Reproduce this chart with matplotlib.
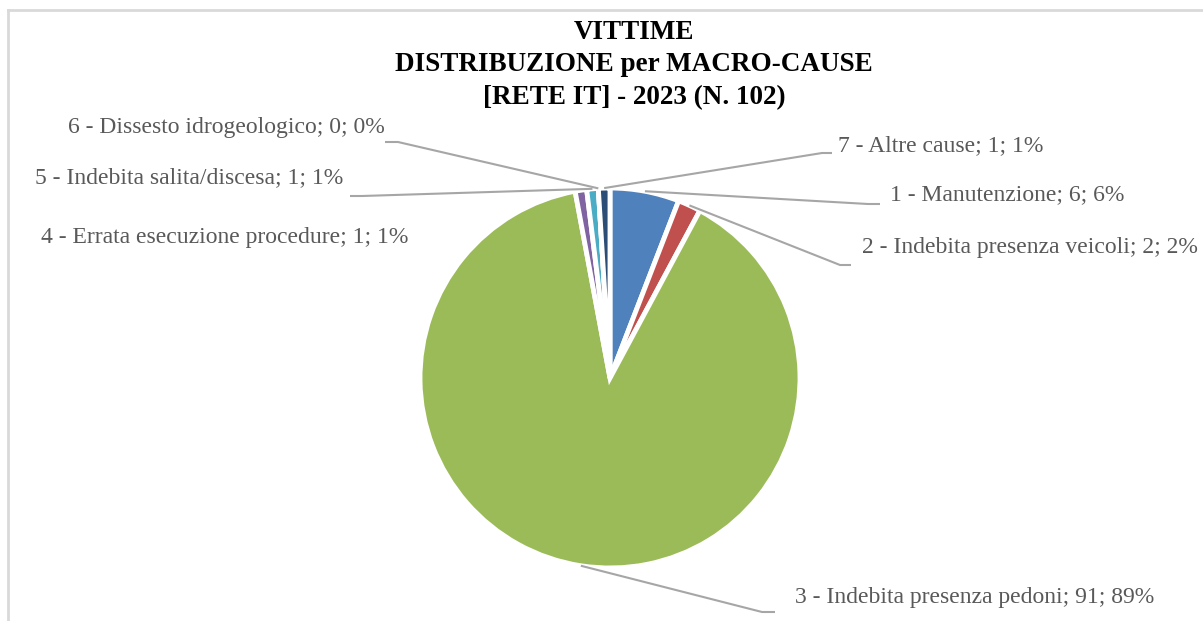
import numpy as np
import matplotlib.pyplot as plt

# data
categories = ['1 - Manutenzione', '2 - Indebita presenza veicoli', '3 - Indebita presenza pedoni',
              '4 - Errata esecuzione procedure', '5 - Indebita salita/discesa',
              '6 - Dissesto idrogeologico', '7 - Altre cause']
values = [6, 2, 91, 1, 1, 0, 1]
colors = ['#4F81BD', '#C0504D', '#9BBB59', '#8064A2', '#4BACC6', '#F79646', '#2C4D75']
title = 'VITTIME\nDISTRIBUZIONE per MACRO-CAUSE\n[RETE IT] - 2023 (N. 102)'

W, H = 1203, 621
fig = plt.figure(figsize=(W / 100, H / 100), dpi=100)
ax = fig.add_axes([0, 0, 1, 1])

# pie (pixel coords, y pointing down -> counterclock in data = clockwise on screen)
cx, cy, R = 610, 378, 190
ax.pie(values, colors=colors, startangle=-90, counterclock=True, center=(cx, cy), radius=R,
       wedgeprops=dict(edgecolor='white', linewidth=3.5), frame=True)
ax.set_xlim(0, W)
ax.set_ylim(H, 0)
ax.axis('off')

total = sum(values)
cum = np.cumsum([0] + values)
mid = -90 + (cum[:-1] + np.array(values) / 2) / total * 360

# label placement: (x, y, ha, elbow_start, elbow_end) - None for no leader
label_pos = [
    (890, 195, 'left', (880, 204), (868, 204)),
    (862, 247, 'left', (851, 265), (840, 265)),
    (795, 597, 'left', (775, 612), (762, 612)),
    (408, 237, 'right', None, None),
    (343, 178, 'right', (350, 196), (362, 196)),
    (385, 127, 'right', (385, 142), (398, 142)),
    (838, 146, 'left', (832, 153), (822, 153)),
]

txt_font = dict(family='Liberation Serif', size=17, color='#595959')
for i, (name, v) in enumerate(zip(categories, values)):
    pct = int(round(v / total * 100))
    x, y, ha, p0, p1 = label_pos[i]
    ax.text(x, y, f'{name}; {v}; {pct}%', ha=ha, va='center', **txt_font)
    if p0 is not None:
        th = np.deg2rad(mid[i])
        px, py = cx + R * np.cos(th), cy + R * np.sin(th)
        ax.plot([p0[0], p1[0], px], [p0[1], p1[1], py], color='#A6A6A6', lw=1.5,
                solid_capstyle='butt')

ax.text(634, 65, title, ha='center', va='center', family='Liberation Serif', size=19.5,
        weight='bold', color='black', linespacing=1.38)

# chart frame (left and top edges visible)
ax.plot([8, 8], [H, 10], color='#D9D9D9', lw=2)
ax.plot([8, W], [10, 10], color='#D9D9D9', lw=2)

fig.savefig('out.png', dpi=100, facecolor='white')
